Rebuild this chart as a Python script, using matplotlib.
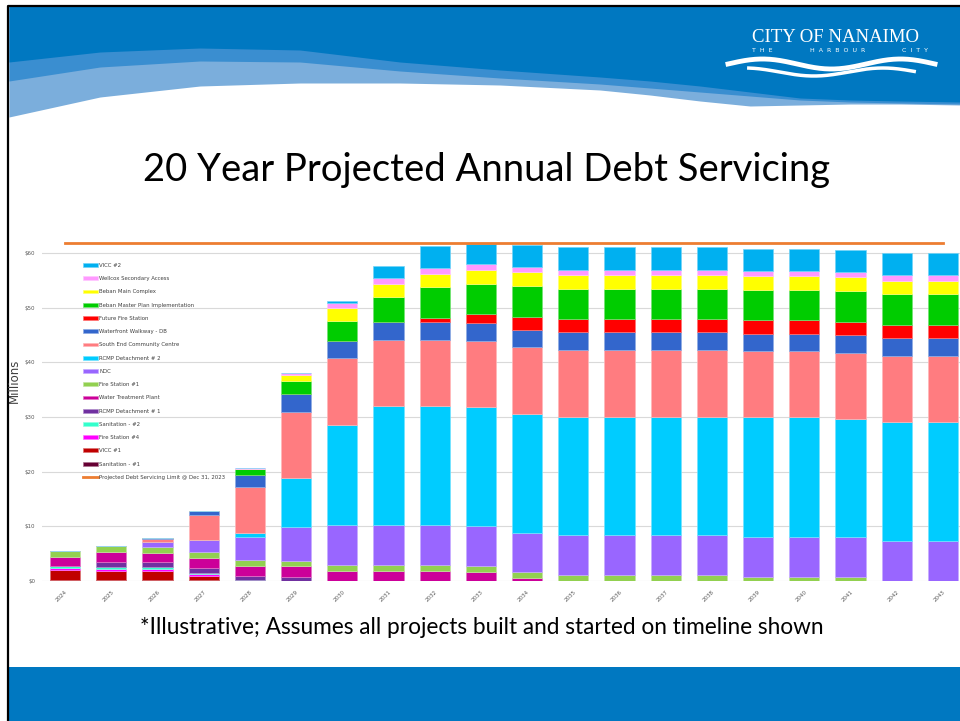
import numpy as np
import matplotlib
matplotlib.use("Agg")
import matplotlib.pyplot as plt
from matplotlib import colors as mcolors

# ---------------- data ----------------
years = [str(y) for y in range(2024, 2044)]

sanitation_1   = [0.10, 0.10, 0.10, 0.10, 0, 0, 0, 0, 0, 0, 0, 0, 0, 0, 0, 0, 0, 0, 0, 0]
vicc_1         = [1.90, 1.80, 1.80, 0.80, 0, 0, 0, 0, 0, 0, 0, 0, 0, 0, 0, 0, 0, 0, 0, 0]
fire_station_4 = [0.35, 0.30, 0.30, 0.30, 0, 0, 0, 0, 0, 0, 0, 0, 0, 0, 0, 0, 0, 0, 0, 0]
sanitation_2   = [0.35, 0.35, 0.30, 0.30, 0.20, 0, 0, 0, 0, 0, 0, 0, 0, 0, 0, 0, 0, 0, 0, 0]
rcmp_1         = [0, 0.95, 0.90, 0.85, 0.80, 0.80, 0, 0, 0, 0, 0, 0, 0, 0, 0, 0, 0, 0, 0, 0]
water_treat    = [1.70, 1.75, 1.80, 1.90, 1.80, 1.90, 1.82, 1.82, 1.82, 1.64, 0.49, 0, 0, 0, 0, 0, 0, 0, 0, 0]
fire_station_1 = [1.10, 1.10, 1.10, 1.10, 1.10, 1.05, 1.03, 1.09, 1.09, 1.09, 1.16, 1.09, 1.09, 1.09, 1.09, 0.79, 0.79, 0.67, 0, 0]
noc            = [0, 0.10, 0.80, 2.07, 4.10, 6.15, 7.36, 7.30, 7.30, 7.30, 7.17, 7.30, 7.30, 7.30, 7.30, 7.30, 7.30, 7.30, 7.30, 7.30]
rcmp_2         = [0, 0, 0, 0.10, 0.75, 8.95, 18.36, 21.82, 21.82, 21.76, 21.76, 21.70, 21.70, 21.70, 21.70, 21.82, 21.82, 21.70, 21.70, 21.70]
south_end      = [0, 0, 0.60, 4.50, 8.50, 12.10, 12.16, 12.04, 12.04, 12.10, 12.16, 12.16, 12.16, 12.16, 12.16, 12.16, 12.16, 12.10, 12.16, 12.16]
waterfront     = [0, 0, 0.25, 0.85, 2.10, 3.30, 3.22, 3.22, 3.22, 3.22, 3.16, 3.22, 3.22, 3.22, 3.22, 3.16, 3.16, 3.28, 3.22, 3.22]
future_fire    = [0, 0, 0, 0, 0, 0, 0, 0, 0.85, 1.70, 2.43, 2.43, 2.43, 2.43, 2.43, 2.43, 2.43, 2.37, 2.43, 2.43]
beban_master   = [0, 0, 0, 0, 1.20, 2.30, 3.59, 4.62, 5.59, 5.59, 5.65, 5.59, 5.59, 5.59, 5.59, 5.59, 5.59, 5.71, 5.65, 5.65]
beban_main     = [0, 0, 0, 0, 0, 1.20, 2.43, 2.49, 2.49, 2.49, 2.49, 2.49, 2.49, 2.49, 2.49, 2.49, 2.49, 2.43, 2.43, 2.43]
wellcox        = [0, 0, 0, 0, 0.15, 0.35, 0.97, 1.03, 1.03, 1.03, 0.97, 0.97, 0.97, 0.97, 0.97, 0.97, 0.97, 0.97, 1.03, 1.03]
vicc_2         = [0, 0, 0, 0, 0, 0, 0.36, 2.25, 4.01, 3.65, 4.01, 4.07, 4.07, 4.07, 4.07, 4.07, 4.07, 4.01, 4.01, 4.01]

debt_limit = 61.8
limit_label = "Projected Debt Servicing Limit @ Dec 31, 2023"

# bottom-to-top stacking order
stack = [
    ("Sanitation - #1", sanitation_1, "#660033"),
    ("VICC #1", vicc_1, "#C00000"),
    ("Fire Station #4", fire_station_4, "#FF00FF"),
    ("Sanitation - #2", sanitation_2, "#33FFCC"),
    ("RCMP Detachment # 1", rcmp_1, "#7030A0"),
    ("Water Treatment Plant", water_treat, "#CC0099"),
    ("Fire Station #1", fire_station_1, "#92D050"),
    ("NOC", noc, "#9966FF"),
    ("RCMP Detachment # 2", rcmp_2, "#00CCFF"),
    ("South End Community Centre", south_end, "#FF7C80"),
    ("Waterfront Walkway - DB", waterfront, "#3366CC"),
    ("Future Fire Station", future_fire, "#FF0000"),
    ("Beban Master Plan Implementation", beban_master, "#00CC00"),
    ("Beban Main Complex", beban_main, "#FFFF00"),
    ("Wellcox Secondary Access", wellcox, "#FF99FF"),
    ("VICC #2", vicc_2, "#00B0F0"),
]

# ---------------- figure ----------------
W, H = 960, 721
fig = plt.figure(figsize=(W / 100, H / 100), dpi=100, facecolor="white")

# background / slide decoration axes (pixel coordinates)
bg = fig.add_axes([0, 0, 1, 1], zorder=0)
bg.set_xlim(0, W)
bg.set_ylim(H, 0)
bg.axis("off")

xs = np.array([9, 100, 200, 300, 400, 500, 600, 650, 700, 750, 800, 850, 900, 960])
dark_b = np.array([62, 52, 48, 50, 62, 70, 77, 81, 86, 92, 98, 100, 101, 102])
med_b = np.array([81, 67, 61, 62, 71, 78, 84, 88, 92, 96, 100, 102, 103, 104])
light_b = np.array([117, 97, 86, 83, 83, 85, 90, 95, 101, 106, 105, 104, 104, 105])
xf = np.linspace(9, 960, 400)
bg.fill_between(xf, 6, np.interp(xf, xs, light_b), color="#7BAEDC", lw=0)
bg.fill_between(xf, 6, np.interp(xf, xs, med_b), color="#3A8ED0", lw=0)
bg.fill_between(xf, 6, np.interp(xf, xs, dark_b), color="#0078C1", lw=0)

# bottom band
bg.fill_between([9, 960], 667, 721, color="#0078C1", lw=0)

# black border left/top
bg.plot([8, 8, 960], [721, 6, 6], color="black", lw=1.6, solid_capstyle="butt")

# logo
bg.text(836, 37, "CITY OF NANAIMO", color="white", fontsize=13.5,
        family="Liberation Serif", ha="center", va="center")
bg.text(752, 50, "T  H  E", color="white", fontsize=4.5, ha="left", va="center")
bg.text(838, 50, "H  A  R  B  O  U  R", color="white", fontsize=4.5, ha="center", va="center")
bg.text(928, 50, "C  I  T  Y", color="white", fontsize=4.5, ha="right", va="center")
wx = np.linspace(728, 935, 200)
bg.plot(wx, 64 - 5 * np.sin((wx - 728) / 207 * 3 * np.pi), color="white", lw=3.5)
bg.plot(wx[20:180], 72 - 4 * np.sin((wx[20:180] - 728) / 207 * 3 * np.pi + 0.8), color="white", lw=2.5)

# title & footnote
bg.text(487, 170, "20 Year Projected Annual Debt Servicing", fontsize=27.5,
        family="Lato", ha="center", va="center", color="black")
bg.text(482, 627, "*Illustrative; Assumes all projects built and started on timeline shown",
        fontsize=16.3, family="Lato", ha="center", va="center", color="black")

# ---------------- chart ----------------
ymax = 63
px_per = (581 - 253) / 60.0
top_px = 581 - ymax * px_per
ax = fig.add_axes([42 / W, (H - 581) / H, 924 / W, (581 - top_px) / H], zorder=1)
ax.set_facecolor("none")

x = np.arange(len(years))
bottom = np.zeros(len(years))
handles = []
for name, vals, col in stack:
    v = np.array(vals, dtype=float)
    edge = mcolors.to_hex(0.55 * np.array(mcolors.to_rgb(col)) + 0.45)
    b = ax.bar(x, v, width=0.65, bottom=bottom, color=col, edgecolor=edge,
               linewidth=0.5, label=name, zorder=2)
    handles.append(b)
    bottom += v

line, = ax.plot(x, [debt_limit] * len(years), color="#ED7D31", lw=2.0,
                label=limit_label, zorder=3)

ax.set_xlim(-0.5, len(years) - 0.5)
ax.set_ylim(0, ymax)
ax.set_yticks(np.arange(0, 61, 10))
ax.set_yticklabels([f"${v}" for v in range(0, 61, 10)])
ax.grid(axis="y", color="#D9D9D9", lw=0.8, zorder=0)
ax.set_axisbelow(True)
for s in ax.spines.values():
    s.set_visible(False)
ax.tick_params(axis="both", length=0, labelsize=4, labelcolor="#595959")
ax.tick_params(axis="y", pad=5)
ax.set_xticks(x)
ax.set_xticklabels(years, rotation=45, ha="right", va="top", rotation_mode="anchor")
ax.tick_params(axis="x", pad=6)
ax.set_ylabel("Millions", fontsize=8.5, color="#404040")
ax.yaxis.set_label_coords((21 - 42) / 924, (581 - 381) / (581 - top_px))

leg_handles = handles[::-1] + [line]
leg_labels = [h.get_label() for h in leg_handles]
leg = fig.legend(leg_handles, leg_labels, loc="upper left",
                 bbox_to_anchor=(83 / W, 1 - 263 / H), frameon=False,
                 fontsize=3.9, handlelength=2.7, handleheight=0.7,
                 handletextpad=0.3, labelspacing=1.52, borderpad=0,
                 borderaxespad=0)
for t in leg.get_texts():
    t.set_color("#404040")

fig.savefig("out.png", dpi=100, facecolor="white")
